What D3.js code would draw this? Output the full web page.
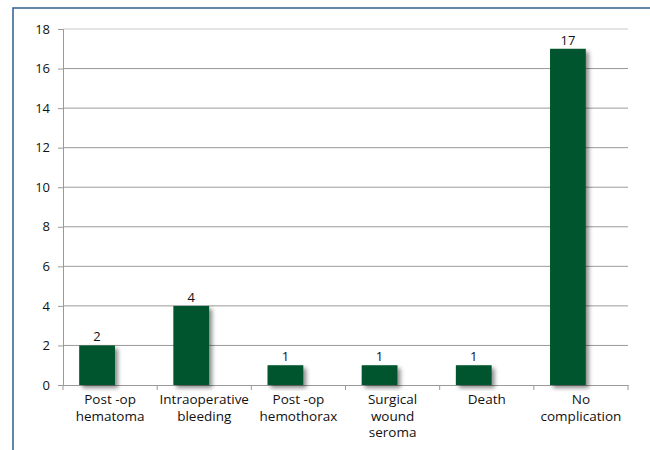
<!DOCTYPE html>
<html lang="en">
<head>
<meta charset="UTF-8">
<title>Complications</title>
<script src="https://cdn.jsdelivr.net/npm/d3@7"></script>
<style>
  body { margin: 0; background: #fff; }
  text { font-family: "Open Sans", sans-serif; fill: #111; }
</style>
</head>
<body>
<script>
// data
var categories = [
  ["Post -op", "hematoma"],
  ["Intraoperative", "bleeding"],
  ["Post -op", "hemothorax"],
  ["Surgical", "wound", "seroma"],
  ["Death"],
  ["No", "complication"]
];
var values = [2, 4, 1, 1, 1, 17];
var yTicks = [0, 2, 4, 6, 8, 10, 12, 14, 16, 18];

drawChart();

function drawChart() {
  var width = 650, height = 450;
  var left = 63, right = 628, top = 29, bottom = 385;

  var svg = d3.select("body").append("svg")
    .attr("width", width)
    .attr("height", height);

  var defs = svg.append("defs");
  var f = defs.append("filter").attr("id", "shadow")
    .attr("x", "-30%").attr("y", "-30%").attr("width", "160%").attr("height", "160%");
  f.append("feDropShadow")
    .attr("dx", 3).attr("dy", 3)
    .attr("stdDeviation", 2)
    .attr("flood-color", "#000")
    .attr("flood-opacity", 0.45);

  // outer frame
  svg.append("rect")
    .attr("x", 13).attr("y", 8)
    .attr("width", 700).attr("height", 500)
    .attr("fill", "none")
    .attr("stroke", "#2f5f8f")
    .attr("stroke-width", 1.5);

  var x = d3.scaleBand()
    .domain(d3.range(categories.length))
    .range([left, right]);

  var y = d3.scaleLinear()
    .domain([0, 18])
    .range([bottom, top]);

  // grid lines
  svg.append("g").selectAll("line")
    .data(yTicks.filter(function (d) { return d > 0; }))
    .join("line")
    .attr("x1", left).attr("x2", right)
    .attr("y1", function (d) { return y(d); })
    .attr("y2", function (d) { return y(d); })
    .attr("stroke", function (d) { return d === 18 ? "#c8c8c8" : "#9a9a9a"; })
    .attr("stroke-width", 1);

  // y axis
  var yAxis = svg.append("g")
    .attr("transform", "translate(" + left + ",0)")
    .call(d3.axisLeft(y).tickValues(yTicks).tickSize(5).tickPadding(8));
  yAxis.select(".domain").attr("stroke", "#9a9a9a");
  yAxis.selectAll(".tick line").attr("stroke", "#9a9a9a");
  yAxis.selectAll("text").attr("font-size", 13).attr("fill", "#111")
    .attr("font-family", "'Open Sans', sans-serif");

  // x axis
  var xAxis = svg.append("g")
    .attr("transform", "translate(0," + bottom + ")")
    .call(d3.axisBottom(x).tickSize(0).tickFormat(""));
  xAxis.select(".domain").attr("stroke", "#9a9a9a");
  xAxis.selectAll(".tick").remove();
  svg.append("g").selectAll("line")
    .data(d3.range(categories.length + 1))
    .join("line")
    .attr("x1", function (i) { return left + i * x.step(); })
    .attr("x2", function (i) { return left + i * x.step(); })
    .attr("y1", bottom).attr("y2", bottom + 5)
    .attr("stroke", "#9a9a9a");

  // bars
  var barW = x.bandwidth() * 0.38;
  var shift = -13;
  function barX(i) { return x(i) + x.bandwidth() / 2 - barW / 2 + shift; }

  svg.append("g").selectAll("rect")
    .data(values)
    .join("rect")
    .attr("x", function (d, i) { return barX(i); })
    .attr("y", function (d) { return y(d); })
    .attr("width", barW)
    .attr("height", function (d) { return bottom - y(d); })
    .attr("fill", "#02552e")
    .attr("filter", "url(#shadow)");

  // value labels
  svg.append("g").selectAll("text")
    .data(values)
    .join("text")
    .attr("x", function (d, i) { return barX(i) + barW / 2; })
    .attr("y", function (d) { return y(d) - 4; })
    .attr("text-anchor", "middle")
    .attr("font-size", 13)
    .text(function (d) { return d; });

  // category labels
  var lab = svg.append("g").selectAll("text")
    .data(categories)
    .join("text")
    .attr("text-anchor", "middle")
    .attr("font-size", 13.5)
    .attr("x", function (d, i) { return x(i) + x.bandwidth() / 2; })
    .attr("y", bottom + 19);
  lab.selectAll("tspan")
    .data(function (d) { return d; })
    .join("tspan")
    .attr("x", function () { return d3.select(this.parentNode).attr("x"); })
    .attr("dy", function (d, j) { return j === 0 ? 0 : 16.5; })
    .text(function (d) { return d; });
}
</script>
</body>
</html>
